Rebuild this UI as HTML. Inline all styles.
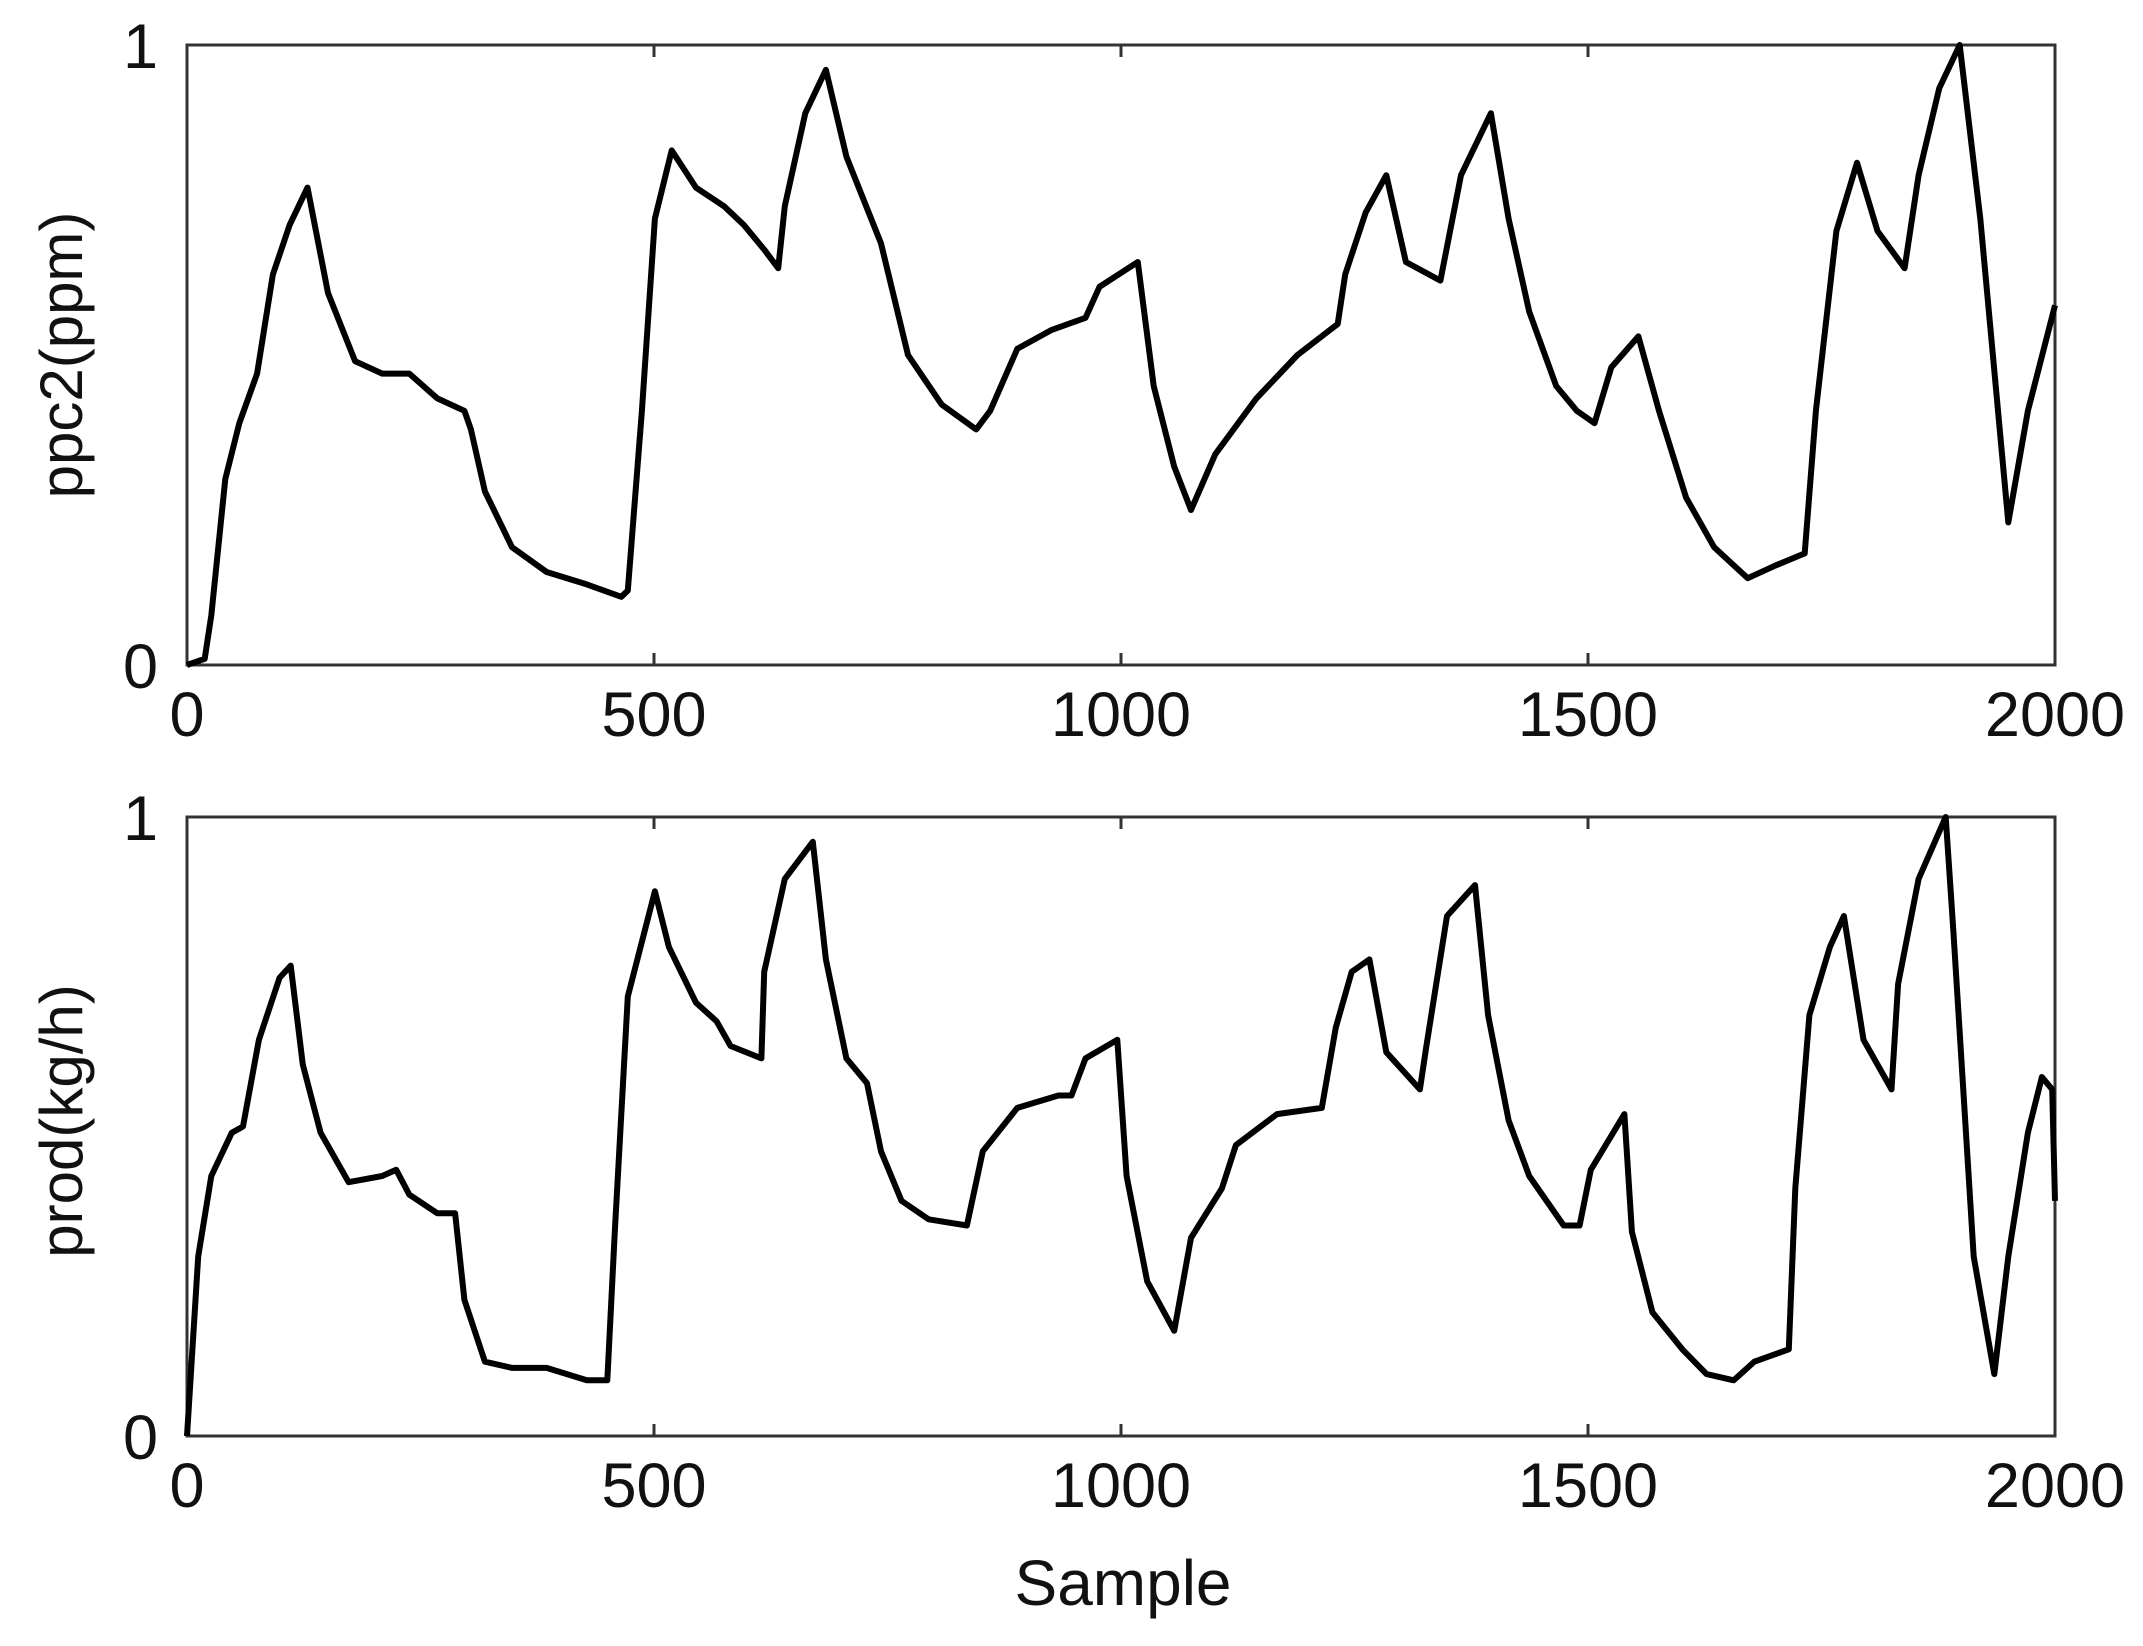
<!DOCTYPE html>
<html><head><meta charset="utf-8"><style>
html,body{margin:0;padding:0;background:#fff;}
svg text{font-family:"Liberation Sans",Arial,sans-serif;fill:#111;}
</style></head><body>
<svg id="chart" width="2143" height="1641" viewBox="0 0 2143 1641" xmlns="http://www.w3.org/2000/svg">
<rect width="2143" height="1641" fill="#fff"/>
<g id="g1"></g>
<g id="g2"></g>
<text x="1123" y="1605" font-size="64" text-anchor="middle">Sample</text>
</svg>
<script>
const xTicks = [0, 500, 1000, 1500, 2000];
const yTicks = [0, 1];
const ppcX = [0,19,26,41,56,75,92,110,129,151,180,209,238,268,297,304,319,348,385,428,465,472,487,501,519,545,575,596,618,633,640,662,684,706,743,772,808,845,860,889,925,962,977,1018,1035,1057,1075,1101,1145,1189,1232,1240,1262,1284,1305,1342,1364,1396,1415,1437,1466,1488,1507,1525,1554,1576,1605,1635,1671,1700,1732,1744,1766,1788,1810,1839,1854,1876,1898,1920,1950,1971,2000];
const ppcY = [0,0.01,0.08,0.30,0.39,0.47,0.63,0.71,0.77,0.60,0.49,0.47,0.47,0.43,0.41,0.38,0.28,0.19,0.15,0.13,0.11,0.12,0.41,0.72,0.83,0.77,0.74,0.71,0.67,0.64,0.74,0.89,0.96,0.82,0.68,0.50,0.42,0.38,0.41,0.51,0.54,0.56,0.61,0.65,0.45,0.32,0.25,0.34,0.43,0.50,0.55,0.63,0.73,0.79,0.65,0.62,0.79,0.89,0.72,0.57,0.45,0.41,0.39,0.48,0.53,0.41,0.27,0.19,0.14,0.16,0.18,0.41,0.70,0.81,0.70,0.64,0.79,0.93,1.0,0.72,0.23,0.41,0.58];
const prodX = [0,12,26,48,60,77,99,111,124,143,173,209,224,238,268,287,297,319,348,385,428,450,458,472,501,516,545,567,582,615,618,640,670,684,706,728,743,765,794,835,852,889,933,947,962,996,1006,1028,1057,1075,1108,1123,1167,1215,1230,1247,1266,1284,1320,1327,1349,1379,1393,1415,1437,1474,1491,1503,1539,1547,1569,1601,1627,1656,1678,1715,1722,1737,1759,1774,1795,1825,1832,1854,1883,1891,1913,1935,1950,1971,1986,1997,2000];
const prodY = [0,0.29,0.42,0.49,0.50,0.64,0.74,0.76,0.60,0.49,0.41,0.42,0.43,0.39,0.36,0.36,0.22,0.12,0.11,0.11,0.09,0.09,0.33,0.71,0.88,0.79,0.70,0.67,0.63,0.61,0.75,0.90,0.96,0.77,0.61,0.57,0.46,0.38,0.35,0.34,0.46,0.53,0.55,0.55,0.61,0.64,0.42,0.25,0.17,0.32,0.40,0.47,0.52,0.53,0.66,0.75,0.77,0.62,0.56,0.63,0.84,0.89,0.68,0.51,0.42,0.34,0.34,0.43,0.52,0.33,0.20,0.14,0.10,0.09,0.12,0.14,0.40,0.68,0.79,0.84,0.64,0.56,0.73,0.90,1.0,0.82,0.29,0.10,0.29,0.49,0.58,0.56,0.38];

const NS='http://www.w3.org/2000/svg';
function mk(tag, attrs, parent){const e=document.createElementNS(NS,tag);for(const k in attrs)e.setAttribute(k,attrs[k]);parent.appendChild(e);return e;}

function panel(g, top, bottom, xs, ys, title, titleY, prefix){
  const L=187, R=2055;
  const sx=v=>L+(v-0)/(2000-0)*(R-L);
  const sy=v=>bottom-(v-0)/(1-0)*(bottom-top);
  const box=mk('rect',{x:L,y:top,width:R-L,height:bottom-top,fill:'none',stroke:'#333','stroke-width':3},g);
  
  
  xTicks.forEach(t=>{
    const x=sx(t);
    const tk=mk('path',{d:`M${x},${bottom}v-12M${x},${top}v12`,stroke:'#333','stroke-width':3},g);
    
    
    const tx=mk('text',{x:x,y:bottom+71,'font-size':63,'text-anchor':'middle'},g);
    tx.textContent=t;
    
    
  });
  yTicks.forEach(t=>{
    const y=sy(t);
    const tx=mk('text',{x:158,y:y+23,'font-size':63,'text-anchor':'end'},g);
    tx.textContent=t;
    
    
  });
  const ttl=mk('text',{x:0,y:0,'font-size':60,'text-anchor':'middle',transform:`translate(82,${titleY}) rotate(-90)`},g);
  ttl.textContent=title;
  
  
  let d='';
  xs.forEach((v,i)=>{d+=(i?'L':'M')+sx(v).toFixed(1)+','+sy(ys[i]).toFixed(1);});
  const ln=mk('path',{d:d,fill:'none',stroke:'#000','stroke-width':6,'stroke-linejoin':'round'},g);
  
  
}
panel(document.getElementById('g1'),45,665,ppcX,ppcY,'ppc2(ppm)',355,'ppc2');
panel(document.getElementById('g2'),817,1436,prodX,prodY,'prod(kg/h)',1121,'prod');
</script>
</body></html>
